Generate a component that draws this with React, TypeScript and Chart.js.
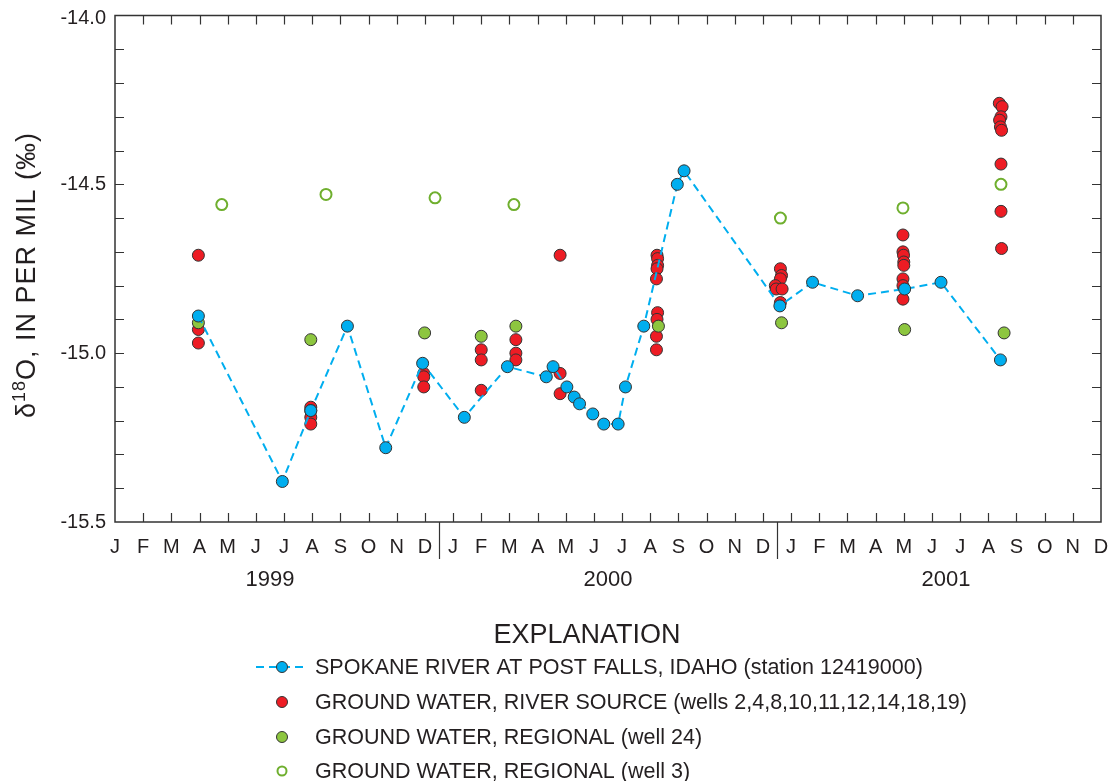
import React, { useEffect, useRef } from "react";
import { Chart, registerables } from "chart.js";

Chart.register(...registerables);

// x = month index (0 = Jan 1999 label position), y = delta 18O (per mil)
const riverX = [2.96, 5.94, 6.95, 8.25, 9.61, 10.92, 12.4, 13.93, 15.31, 15.55, 16.04, 16.3, 16.49, 16.96, 17.35, 17.86, 18.12, 18.77, 19.96, 20.2, 23.6, 24.76, 26.36, 28.03, 29.32, 31.43];
const riverY = [-14.89, -15.38, -15.17, -14.92, -15.28, -15.03, -15.19, -15.04, -15.07, -15.04, -15.1, -15.13, -15.15, -15.18, -15.21, -15.21, -15.1, -14.92, -14.5, -14.46, -14.86, -14.79, -14.83, -14.81, -14.79, -15.02];

const sourceX = [2.96, 2.96, 2.96, 6.95, 6.95, 6.95, 6.95, 10.96, 10.96, 10.96, 13.0, 13.0, 13.0, 14.23, 14.23, 14.23, 15.8, 15.8, 15.8, 19.24, 19.26, 19.26, 19.24, 19.22, 19.26, 19.24, 19.22, 19.22, 23.62, 23.66, 23.62, 23.44, 23.47, 23.68, 23.62, 27.97, 27.97, 27.99, 28.0, 28.0, 27.97, 27.97, 27.97, 31.39, 31.49, 31.45, 31.4, 31.43, 31.47, 31.45, 31.45, 31.47];
const sourceY = [-14.71, -14.93, -14.97, -15.16, -15.17, -15.19, -15.21, -15.06, -15.07, -15.1, -14.99, -15.02, -15.11, -14.96, -15.0, -15.02, -14.71, -15.06, -15.12, -14.71, -14.72, -14.74, -14.75, -14.78, -14.88, -14.9, -14.95, -14.99, -14.75, -14.77, -14.78, -14.8, -14.81, -14.81, -14.85, -14.65, -14.7, -14.71, -14.73, -14.74, -14.78, -14.8, -14.84, -14.26, -14.27, -14.3, -14.31, -14.33, -14.34, -14.44, -14.58, -14.69];

const well24X = [2.96, 6.95, 10.99, 13.0, 14.23, 19.29, 23.66, 28.03, 31.56];
const well24Y = [-14.91, -14.96, -14.94, -14.95, -14.92, -14.92, -14.91, -14.93, -14.94];

const well3X = [3.79, 7.49, 11.36, 14.16, 23.62, 27.97, 31.45];
const well3Y = [-14.56, -14.53, -14.54, -14.56, -14.6, -14.57, -14.5];

const monthLetters = ["J", "F", "M", "A", "M", "J", "J", "A", "S", "O", "N", "D"];
const monthLabels = [...monthLetters, ...monthLetters, ...monthLetters];
const yearLabels = ["1999", "2000", "2001"];
const yearCenters = [5.5, 17.5, 29.5];
const yearBreaks = [11.5, 23.5];
const yTickValues = [-14.0, -14.5, -15.0, -15.5];
const yTickLabels = ["-14.0", "-14.5", "-15.0", "-15.5"];

const legendTitle = "EXPLANATION";
const legendLabels = [
  "SPOKANE RIVER AT POST FALLS, IDAHO (station 12419000)",
  "GROUND WATER, RIVER SOURCE (wells 2,4,8,10,11,12,14,18,19)",
  "GROUND WATER, REGIONAL (well 24)",
  "GROUND WATER, REGIONAL (well 3)",
];

const BLUE = "#00AEEF";
const RED = "#ED1C24";
const GREEN = "#8DC63F";
const OPEN_GREEN = "#6FAF2E";
const EDGE = "#333333";
const FONT = '"Liberation Sans", Arial, Helvetica, sans-serif';

const toPts = (xs: number[], ys: number[]) => xs.map((x, i) => ({ x, y: ys[i] }));

const customPlugin = {
  id: "customAxes",
  beforeDatasetsDraw(chart: any) {
    const { ctx, chartArea, scales } = chart;
    const { left, right, top, bottom } = chartArea;
    const xs = scales.x;
    const ys = scales.y;
    ctx.save();
    ctx.strokeStyle = EDGE;
    ctx.lineWidth = 1.5;
    ctx.strokeRect(left, top, right - left, bottom - top);
    ctx.lineWidth = 1.2;
    const tl = 9;
    for (let i = 1; i < 15; i++) {
      const v = -15.5 + i * 0.1;
      const py = Math.round(ys.getPixelForValue(v)) + 0.5;
      ctx.beginPath();
      ctx.moveTo(left, py);
      ctx.lineTo(left + tl, py);
      ctx.moveTo(right, py);
      ctx.lineTo(right - tl, py);
      ctx.stroke();
    }
    for (let k = 1; k < monthLabels.length - 1; k++) {
      const px = Math.round(xs.getPixelForValue(k)) + 0.5;
      ctx.beginPath();
      ctx.moveTo(px, bottom);
      ctx.lineTo(px, bottom - tl);
      ctx.moveTo(px, top);
      ctx.lineTo(px, top + tl);
      ctx.stroke();
    }
    yearBreaks.forEach((b) => {
      const px = Math.round(xs.getPixelForValue(b)) + 0.5;
      ctx.beginPath();
      ctx.moveTo(px, bottom);
      ctx.lineTo(px, bottom + 37);
      ctx.stroke();
    });
    ctx.restore();
  },
  afterDraw(chart: any) {
    const { ctx, chartArea, scales } = chart;
    const { left, bottom } = chartArea;
    const xs = scales.x;
    const ys = scales.y;
    ctx.save();
    ctx.fillStyle = "#231F20";
    ctx.font = `20px ${FONT}`;
    ctx.textAlign = "right";
    ctx.textBaseline = "middle";
    yTickValues.forEach((v, i) => {
      let py = ys.getPixelForValue(v);
      if (i === 0) py += 3;
      ctx.fillText(yTickLabels[i], left - 9, py);
    });
    ctx.textAlign = "center";
    ctx.font = `20px ${FONT}`;
    monthLabels.forEach((m, k) => {
      ctx.fillText(m, xs.getPixelForValue(k), bottom + 25);
    });
    ctx.font = `22px ${FONT}`;
    yearLabels.forEach((y, i) => {
      ctx.fillText(y, xs.getPixelForValue(yearCenters[i]), bottom + 58);
    });
    // y axis title with superscript
    ctx.save();
    ctx.translate(35, 275);
    ctx.rotate(-Math.PI / 2);
    ctx.textAlign = "left";
    ctx.textBaseline = "alphabetic";
    try { (ctx as any).letterSpacing = "1px"; } catch (e) {}
    const big = `27px ${FONT}`;
    const small = `18px ${FONT}`;
    const p1 = "\u03B4";
    const p2 = "18";
    const p3 = "O, IN PER MIL (\u2030)";
    ctx.font = big;
    const w1 = ctx.measureText(p1).width;
    const w3 = ctx.measureText(p3).width;
    ctx.font = small;
    const w2 = ctx.measureText(p2).width;
    const total = w1 + w2 + w3;
    let cx = -total / 2;
    ctx.font = big;
    ctx.fillText(p1, cx, 0);
    cx += w1;
    ctx.font = small;
    ctx.fillText(p2, cx, -10);
    cx += w2;
    ctx.font = big;
    ctx.fillText(p3, cx, 0);
    try { (ctx as any).letterSpacing = "0px"; } catch (e) {}
    ctx.restore();

    // legend
    ctx.textAlign = "center";
    ctx.textBaseline = "middle";
    ctx.font = `27px ${FONT}`;
    ctx.fillText(legendTitle, 587, 636);
    ctx.textAlign = "left";
    ctx.font = `21.5px ${FONT}`;
    const rows = [667, 702, 737, 771];
    const sx = 282;
    legendLabels.forEach((t, i) => {
      const ry = rows[i];
      if (i === 0) {
        ctx.save();
        ctx.strokeStyle = BLUE;
        ctx.lineWidth = 2;
        ctx.setLineDash([8, 5]);
        ctx.beginPath();
        ctx.moveTo(256, ry);
        ctx.lineTo(306, ry);
        ctx.stroke();
        ctx.restore();
      }
      ctx.save();
      ctx.beginPath();
      ctx.arc(sx, ry, i === 3 ? 4.5 : 5.5, 0, Math.PI * 2);
      if (i === 3) {
        ctx.strokeStyle = OPEN_GREEN;
        ctx.lineWidth = 2;
        ctx.fillStyle = "#fff";
        ctx.fill();
        ctx.stroke();
      } else {
        ctx.fillStyle = i === 0 ? BLUE : i === 1 ? RED : GREEN;
        ctx.strokeStyle = EDGE;
        ctx.lineWidth = 1;
        ctx.fill();
        ctx.stroke();
      }
      ctx.restore();
      ctx.fillStyle = "#231F20";
      ctx.fillText(t, 315, ry + 1);
    });
    ctx.restore();
  },
};

export default function App() {
  const ref = useRef<HTMLCanvasElement | null>(null);
  useEffect(() => {
    if (!ref.current) return;
    const chart = new Chart(ref.current, {
      type: "scatter",
      data: {
        datasets: [
          {
            label: legendLabels[0],
            data: toPts(riverX, riverY),
            showLine: true,
            borderColor: BLUE,
            borderWidth: 2,
            borderDash: [8, 5],
            tension: 0,
            pointRadius: 6,
            pointBackgroundColor: BLUE,
            pointBorderColor: EDGE,
            pointBorderWidth: 1,
            order: 0,
          } as any,
          {
            label: legendLabels[2],
            data: toPts(well24X, well24Y),
            showLine: false,
            pointRadius: 6,
            pointBackgroundColor: GREEN,
            pointBorderColor: EDGE,
            pointBorderWidth: 1,
            order: 1,
          },
          {
            label: legendLabels[1],
            data: toPts(sourceX, sourceY),
            showLine: false,
            pointRadius: 6,
            pointBackgroundColor: RED,
            pointBorderColor: EDGE,
            pointBorderWidth: 1,
            order: 2,
          },
          {
            label: legendLabels[3],
            data: toPts(well3X, well3Y),
            showLine: false,
            pointRadius: 5.5,
            pointBackgroundColor: "rgba(255,255,255,0)",
            pointBorderColor: OPEN_GREEN,
            pointBorderWidth: 2,
            order: 3,
          },
        ],
      },
      options: {
        animation: false,
        responsive: false,
        devicePixelRatio: 1,
        layout: { padding: { left: 115, top: 15.5, right: 9, bottom: 259 } },
        scales: {
          x: { type: "linear", min: 0, max: 35, display: false },
          y: { type: "linear", min: -15.5, max: -14.0, display: false },
        },
        plugins: { legend: { display: false }, tooltip: { enabled: false } },
        elements: { line: { fill: false } },
      },
      plugins: [customPlugin],
    });
    return () => chart.destroy();
  }, []);
  return (
    <div style={{ position: "absolute", left: 0, top: 0, width: 1110, height: 781, background: "#fff" }}>
      <canvas ref={ref} width={1110} height={781} />
    </div>
  );
}
